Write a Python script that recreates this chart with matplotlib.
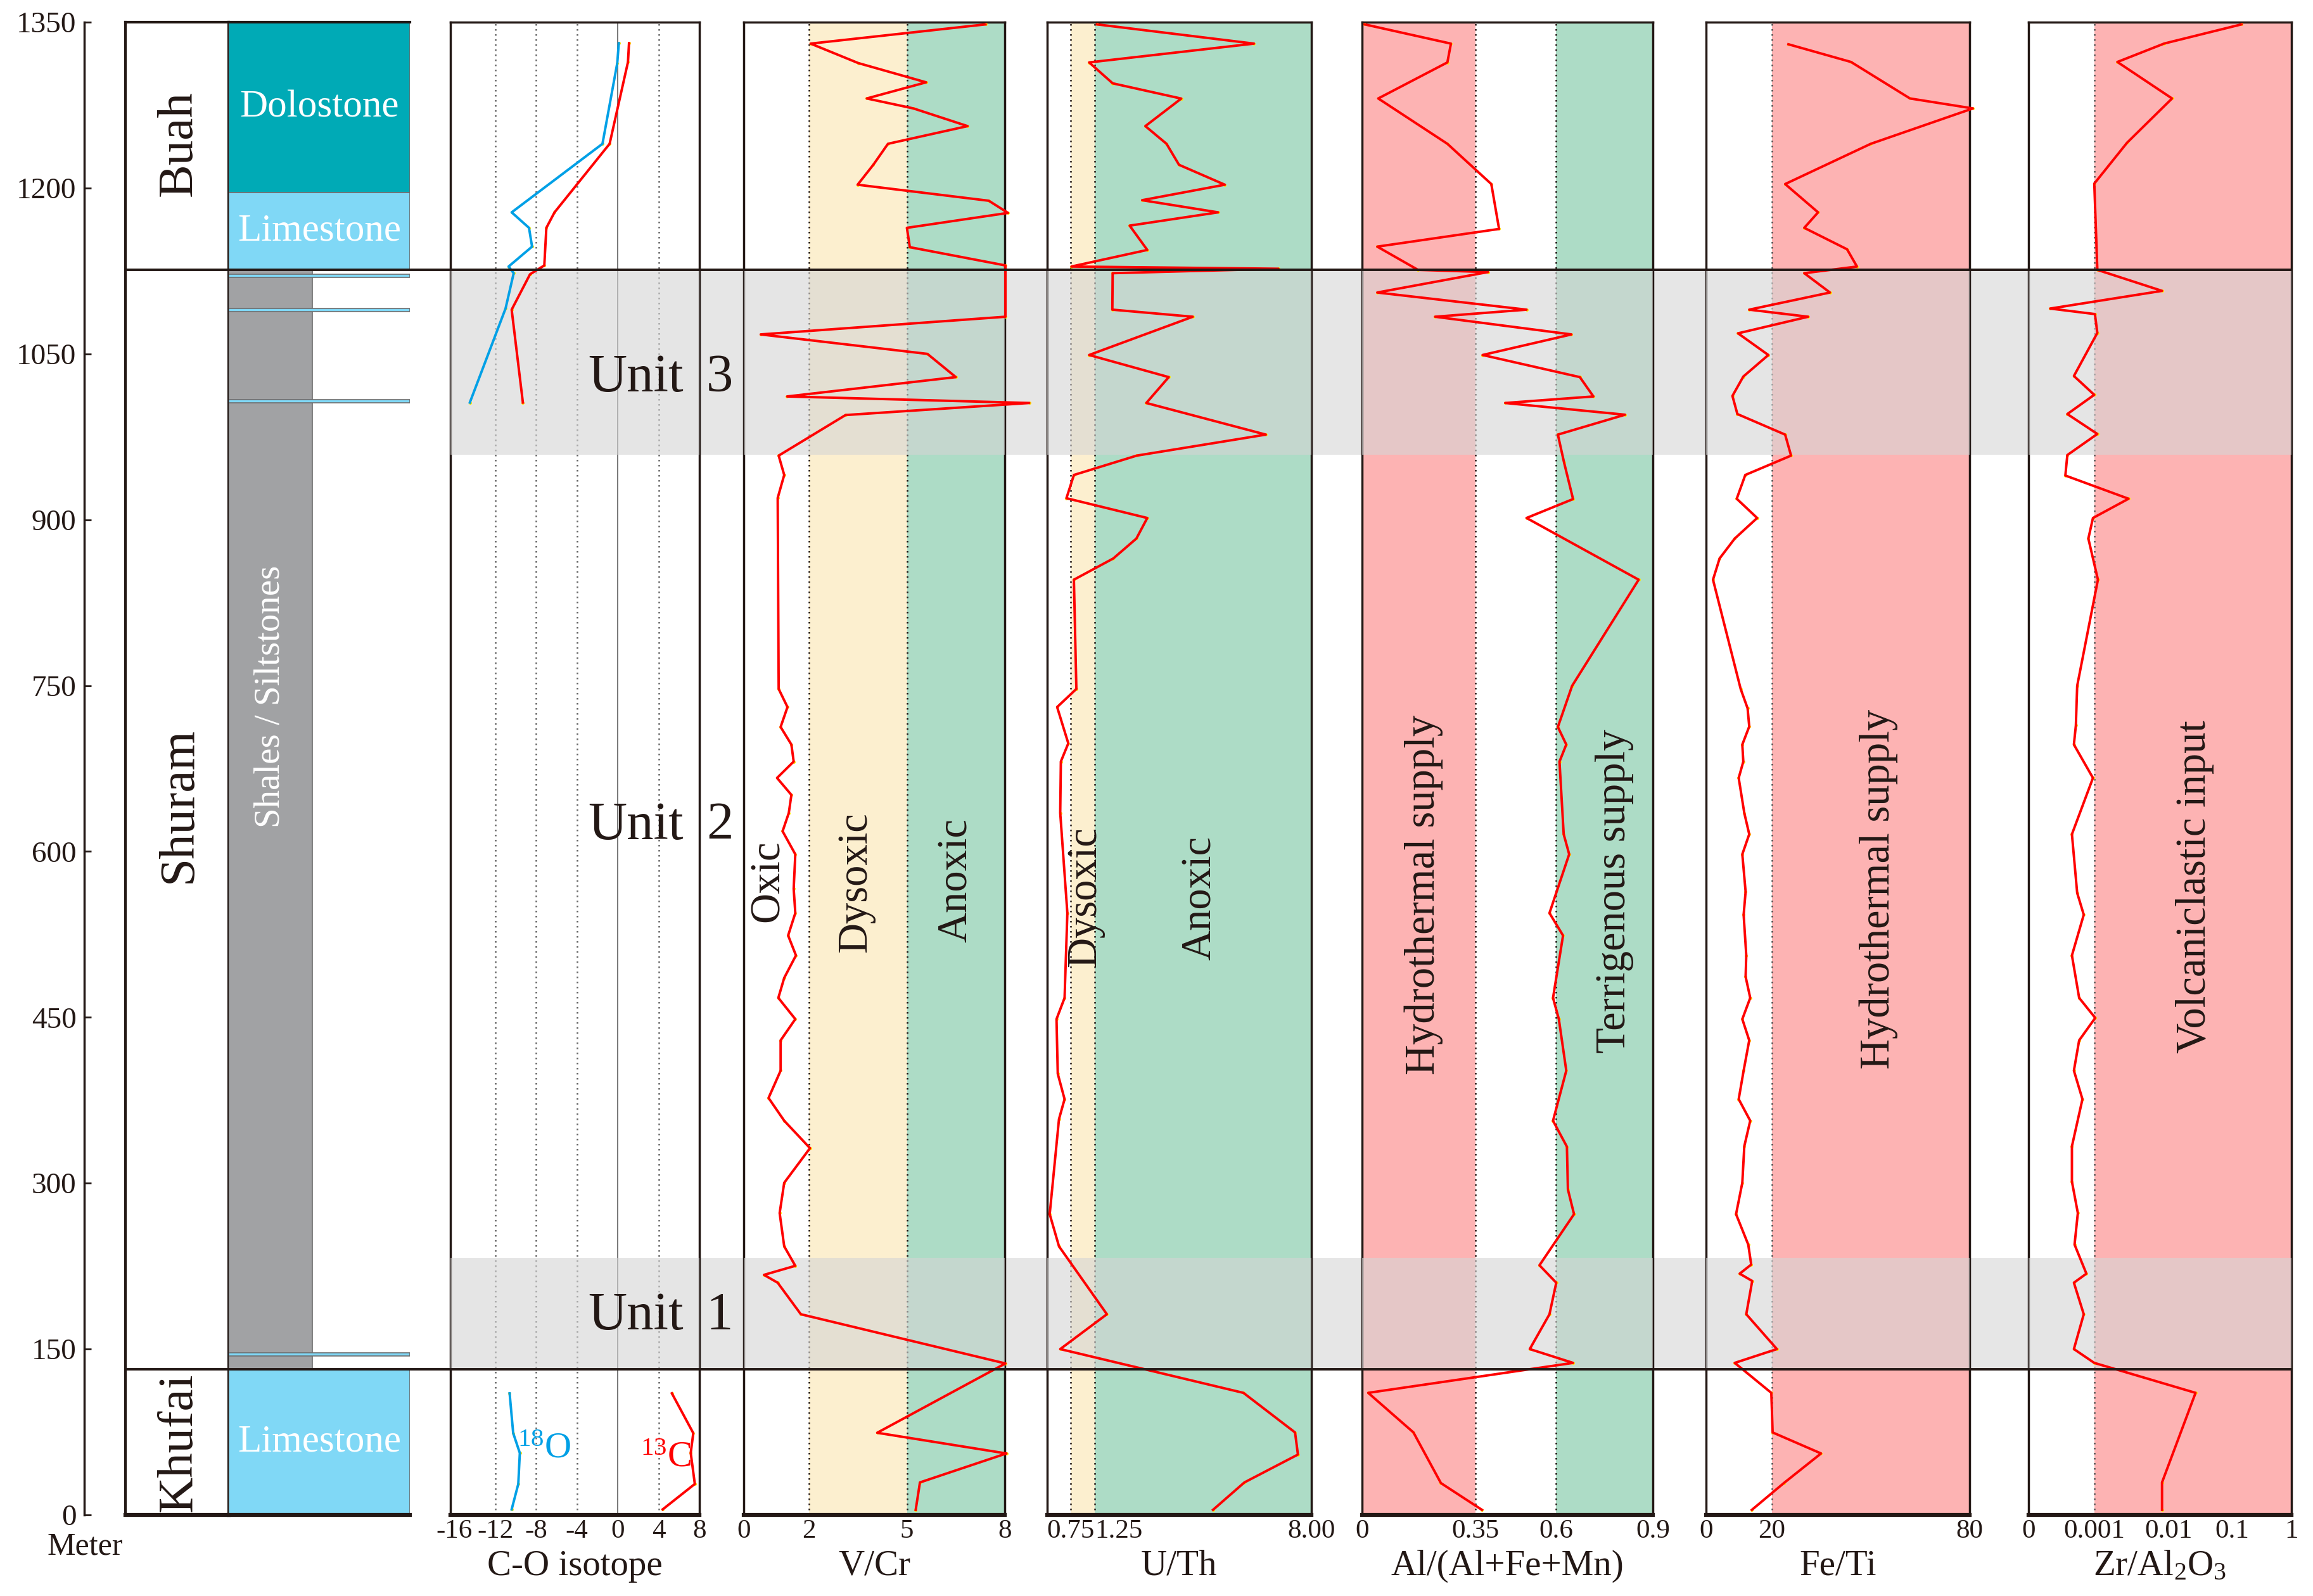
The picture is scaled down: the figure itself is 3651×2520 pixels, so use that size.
import numpy as np
import matplotlib
matplotlib.use("Agg")
import matplotlib.pyplot as plt
from matplotlib.transforms import blended_transform_factory as blend

# ------------------------------------------------------------------ data
depth_ticks = [0, 150, 300, 450, 600, 750, 900, 1050, 1200, 1350]

formations = ["Buah", "Shuram", "Khufai"]
formation_top = [1350, 1126, 132]
formation_base = [1126, 132, 0]
formation_label_depth = [1240, 642, 66]

litho_names = ["Dolostone", "Limestone", "Shales / Siltstones", "Limestone"]
litho_kind = ["dolostone", "limestone", "shale", "limestone"]
litho_top = [1350, 1196, 1126, 132]
litho_base = [1196, 1126, 132, 0]
litho_label_depth = [1273, 1161, 740, 66]

bed_depth = [1120.5, 1089.5, 1007, 145]      # thin limestone beds inside the Shuram shales
bed_thickness = [3, 3, 3, 3]

unit_names = ["Unit 3", "Unit 2", "Unit 1"]
unit_label_depth = [1016, 611, 168]
band_top = [1126, 232.5]
band_base = [959, 132]

# C-O isotopes
d18O_up_depth = [1331, 1313, 1240, 1178, 1164, 1147, 1129, 1123, 1091, 1006]
d18O_up = [0.1, -0.05, -1.5, -10.4, -8.7, -8.4, -10.7, -10.2, -11.0, -14.5]
d13C_up_depth = [1331, 1314, 1240, 1178, 1164, 1130, 1122, 1090, 1006]
d13C_up = [1.1, 1.0, -0.8, -6.2, -7.0, -7.2, -8.6, -10.4, -9.3]
co_low_depth = [110, 74, 56, 28, 5]
d18O_low = [-10.6, -10.25, -9.6, -9.75, -10.4]
d13C_low = [5.3, 7.4, 7.15, 7.55, 4.4]

# V/Cr
vcr_depth = [1348, 1330.6, 1313, 1295.6, 1281, 1272, 1256, 1240, 1221, 1203,
             1188.5, 1177.5, 1164, 1146.5, 1130, 1083.6, 1067.6, 1050, 1029, 1011.5,
             1005.6, 994.7, 958, 940.5, 919.7, 747, 730.6, 712.6, 696.7, 681.3,
             666.5, 651.2, 634.8, 618.3, 597.5, 566.3, 544.3, 524, 506, 485.7,
             467.6, 448.4, 429.2, 401.8, 377.1, 356.5, 331.7, 300.4, 273, 242.9,
             225.3, 217.1, 210, 181.5, 137, 74.3, 55.6, 29.4, 4.6]
vcr = [7.41, 2.05, 3.51, 5.59, 3.77, 5.20, 6.86, 4.42, 3.97, 3.49,
       7.51, 8.10, 5.00, 5.09, 8.02, 8.02, 0.52, 5.63, 6.50, 1.33,
       8.75, 3.12, 1.07, 1.24, 1.04, 1.07, 1.34, 1.13, 1.46, 1.53,
       1.02, 1.46, 1.38, 1.19, 1.58, 1.53, 1.58, 1.36, 1.60, 1.24,
       1.06, 1.58, 1.13, 1.13, 0.76, 1.24, 2.03, 1.24, 1.10, 1.24,
       1.58, 0.62, 1.04, 1.75, 8.02, 4.09, 8.05, 5.40, 5.27]

# U/Th
uth_depth = [1348, 1330.6, 1313.6, 1294.7, 1280.9, 1256, 1240, 1221, 1203, 1189,
             1178, 1166, 1144, 1129, 1127, 1123, 1090, 1083.6, 1049, 1029,
             1005.6, 977, 958, 940.5, 919.5, 901.6, 883, 865, 845.8, 747,
             730.6, 697.8, 681.3, 634.8, 544.3, 467.6, 448.4, 399, 376, 358,
             272, 242.9, 181.5, 150, 110.4, 74.6, 54.6, 29.4, 4.6]
uth = [1.31, 6.21, 1.13, 1.80, 3.94, 2.82, 3.48, 3.87, 5.30, 2.72,
       5.09, 2.33, 2.88, 0.77, 6.97, 1.80, 1.79, 4.30, 1.13, 3.55,
       2.85, 6.58, 2.55, 0.82, 0.62, 2.88, 2.54, 1.82, 0.82, 0.87,
       0.32, 0.68, 0.44, 0.42, 0.65, 0.56, 0.30, 0.34, 0.56, 0.38,
       0.08, 0.38, 1.62, 0.42, 5.88, 7.49, 7.58, 5.91, 4.93]

# Al/(Al+Fe+Mn)
al_depth = [1348, 1330.6, 1313.6, 1281, 1240, 1203.6, 1163, 1147, 1126, 1124,
            1105.5, 1090, 1083.6, 1067.6, 1049, 1029, 1011.5, 1005.6, 995, 977,
            952, 918.7, 901.6, 845.8, 749.8, 712.6, 696.7, 681.3, 615.6, 597.5,
            544.3, 524, 467.6, 448.4, 401.8, 356.5, 333, 294.4, 272, 225.8,
            210, 181.5, 150, 137.5, 110.4, 74.6, 28.8, 4.6]
al = [0.008, 0.275, 0.264, 0.050, 0.264, 0.400, 0.424, 0.047, 0.173, 0.390,
      0.047, 0.509, 0.226, 0.648, 0.373, 0.674, 0.716, 0.443, 0.814, 0.606,
      0.625, 0.653, 0.509, 0.856, 0.650, 0.606, 0.632, 0.611, 0.624, 0.641,
      0.580, 0.622, 0.591, 0.609, 0.632, 0.591, 0.634, 0.637, 0.656, 0.549,
      0.601, 0.580, 0.519, 0.653, 0.019, 0.159, 0.244, 0.371]

# Fe/Ti
feti_depth = [1330, 1314, 1281, 1272, 1240, 1203.6, 1178, 1164, 1144.6, 1129,
              1123, 1105.5, 1090, 1083.6, 1068.6, 1049, 1029.5, 1012, 995.6, 977,
              958, 940.5, 919, 901.6, 883, 865, 845.8, 747, 729.5, 713,
              696.7, 681.3, 666.5, 634.8, 615.6, 597.5, 563.6, 542.8, 506, 486.8,
              467.6, 448.4, 429.2, 401.8, 376, 356.5, 333.4, 300.4, 272, 244.5,
              226.4, 218.2, 211.6, 181.5, 150, 137.5, 110.4, 74.6, 55.6, 28.8, 4.6]
feti = [25.0, 44.0, 61.9, 81.0, 50.0, 24.0, 34.0, 29.8, 42.8, 45.8,
        29.8, 37.6, 13.1, 31.0, 9.7, 18.9, 11.3, 8.0, 9.5, 24.0,
        25.8, 11.9, 9.3, 15.5, 8.7, 4.1, 2.1, 10.5, 12.6, 13.1,
        11.0, 11.3, 9.9, 11.6, 13.1, 11.0, 12.0, 11.4, 12.2, 12.0,
        13.4, 11.0, 13.1, 11.4, 9.9, 13.4, 11.6, 11.0, 9.1, 12.8,
        13.7, 10.2, 14.0, 12.2, 21.5, 8.7, 19.8, 20.2, 34.9, 23.6, 13.9]

# Zr/Al2O3
zr_depth = [1348, 1330.7, 1314, 1281, 1241, 1204, 1126, 1107, 1091, 1086,
            1069, 1030, 1013, 995.6, 977.6, 958.5, 940, 919, 901.6, 883,
            845.8, 749.8, 714, 696.7, 666.5, 615.6, 562.5, 542.8, 506, 467.6,
            449.5, 429.2, 401.8, 376, 333.4, 301.5, 273, 244.5, 218.2, 210,
            181.5, 150, 137.5, 110.4, 29.4, 4.6]
zr = [0.143, 0.0088, 0.00205, 0.0114, 0.00277, 0.0010, 0.0011, 0.0082, 0.00033, 0.00102,
      0.0011, 0.00069, 0.0010, 0.00059, 0.0011, 0.00059, 0.00056, 0.0029, 0.00098, 0.00091,
      0.00112, 0.00074, 0.00072, 0.00069, 0.00098, 0.00066, 0.00074, 0.00084, 0.00066, 0.00077,
      0.00103, 0.00077, 0.00069, 0.00082, 0.00066, 0.00066, 0.00075, 0.00070, 0.00088, 0.00069,
      0.00084, 0.00069, 0.0010, 0.0266, 0.0082, 0.0082]

# ------------------------------------------------------------------ style
plt.rcParams['font.family'] = ['Liberation Serif', 'DejaVu Serif']
plt.rcParams['mathtext.fontset'] = 'custom'
plt.rcParams['mathtext.rm'] = 'Liberation Serif'
plt.rcParams['mathtext.it'] = 'Liberation Serif:italic'
plt.rcParams['mathtext.bf'] = 'Liberation Serif:bold'

INK = '#231815'
YELLOW = '#FCEFCF'
GREEN = '#ADDCC6'
PINK = '#FDB3B3'
DOLO = '#00AAB6'
LIME = '#80D8F6'
SHALE = '#A1A2A4'
BAND = '#E6E6E6'
RED = '#FF0000'
BLUE = '#00A0E6'
litho_color = {'dolostone': DOLO, 'limestone': LIME, 'shale': SHALE}
litho_width = {'dolostone': 1.0, 'limestone': 1.0, 'shale': 0.46}

W, H = 3651, 2520
TOP_PX, BOT_PX = 35, 2392
fig = plt.figure(figsize=(W / 100, H / 100), dpi=100)


def add_ax(x0, x1, z=1):
    ax = fig.add_axes([x0 / W, (H - BOT_PX) / H, (x1 - x0) / W, (BOT_PX - TOP_PX) / H])
    ax.set_zorder(z)
    ax.set_ylim(0, 1350)
    ax.set_facecolor('none')
    return ax


# ---------------- custom axis scales (non-linear hand-drawn axes)
UTH_V = [0, 0.75, 1.25, 8.0]
UTH_P = [0, 0.088, 0.181, 1.0]


def uth_fwd(x):
    x = np.asarray(x, float)
    y = np.interp(x, UTH_V, UTH_P)
    y = np.where(x > 8, 1 + (x - 8) * (0.819 / 6.75), y)
    y = np.where(x < 0, x * 0.088 / 0.75, y)
    return y


def uth_inv(y):
    y = np.asarray(y, float)
    x = np.interp(y, UTH_P, UTH_V)
    x = np.where(y > 1, 8 + (y - 1) * (6.75 / 0.819), x)
    x = np.where(y < 0, y * 0.75 / 0.088, x)
    return x


ZR_L = [-3, -2, -1, 0]
ZR_P = [0.25, 0.532, 0.775, 1.0]


def zr_fwd(x):
    x = np.asarray(x, float)
    lg = np.log10(np.clip(x, 1e-9, None))
    ylog = np.interp(lg, ZR_L, ZR_P)
    ylog = np.where(lg > 0, 1 + lg * 0.225, ylog)
    ylin = 0.25 * x / 0.001
    return np.where(x <= 0.001, ylin, ylog)


def zr_inv(y):
    y = np.asarray(y, float)
    lg = np.interp(y, ZR_P, ZR_L)
    lg = np.where(y > 1, (y - 1) / 0.225, lg)
    return np.where(y <= 0.25, y / 0.25 * 0.001, 10 ** lg)


# ---------------- background gray unit bands (visible in the gaps)
ax_bg = add_ax(711, 3617, z=0)
ax_bg.axis('off')
for t, b in zip(band_top, band_base):
    ax_bg.axhspan(b, t, color=BAND, lw=0)

# ---------------- depth axis
ax_d = add_ax(133, 198)
for s in ['top', 'right', 'bottom']:
    ax_d.spines[s].set_visible(False)
ax_d.spines['left'].set_linewidth(2.5)
ax_d.spines['left'].set_color(INK)
ax_d.set_xticks([])
ax_d.set_yticks(depth_ticks)
ax_d.tick_params(axis='y', direction='in', length=8, width=2, pad=9,
                 labelsize=34, colors=INK)
fig.text(134 / W, 1 - 2442 / H, 'Meter', ha='center', va='center', fontsize=36, color=INK)

# ---------------- formation column
ax_f = add_ax(198, 361)
ax_f.set_xlim(0, 1)
ax_f.set_xticks([]); ax_f.set_yticks([])
for s in ax_f.spines.values():
    s.set_linewidth(3); s.set_color(INK)
ax_f.spines['bottom'].set_linewidth(4.5)
for name, d in zip(formations, formation_label_depth):
    ax_f.text(0.52, d, name, rotation=90, ha='center', va='center', fontsize=57, color=INK)

# ---------------- lithology column
ax_l = add_ax(361, 647)
ax_l.set_xlim(0, 1)
ax_l.set_xticks([]); ax_l.set_yticks([])
for s in ['left', 'right']:
    ax_l.spines[s].set_visible(False)
for s in ['top', 'bottom']:
    ax_l.spines[s].set_color(INK)
ax_l.spines['top'].set_linewidth(3)
ax_l.spines['bottom'].set_linewidth(4.5)
for kind, t, b in zip(litho_kind, litho_top, litho_base):
    ax_l.barh((t + b) / 2, litho_width[kind], height=t - b, left=0, align='center',
              color=litho_color[kind], edgecolor='#6E6E6E', lw=1.2, zorder=1)
for d, th in zip(bed_depth, bed_thickness):
    ax_l.barh(d, 1.0, height=th, left=0, align='center', color=LIME,
              edgecolor='#6E6E6E', lw=1.2, zorder=2)
for name, kind, d in zip(litho_names, litho_kind, litho_label_depth):
    if kind == 'shale':
        ax_l.text(litho_width[kind] / 2, d, name, rotation=90, ha='center', va='center',
                  fontsize=41, color='white', zorder=3)
    else:
        ax_l.text(0.5, d, name, ha='center', va='center', fontsize=44,
                  color='white', zorder=3)


# ---------------- data panels
def panel(x0, x1, xlim, zones, guides, ticks, ticklabels, xlabel, scale=None,
          guide_color=INK):
    ax = add_ax(x0, x1)
    if scale is not None:
        ax.set_xscale('function', functions=scale)
    ax.set_xlim(*xlim)
    for a, b, c in zones:
        ax.axvspan(a, b, color=c, lw=0, zorder=0.5)
    for g in guides:
        ax.axvline(g, color=guide_color, lw=1.8, ls=(0, (1, 2.2)), zorder=1)
    for t, b in zip(band_top, band_base):
        ax.axhspan(b, t, color='#D5D5D5', alpha=0.6, lw=0, zorder=3)
    ax.set_yticks([])
    ax.set_xticks(ticks, ticklabels)
    ax.tick_params(axis='x', length=0, pad=5, labelsize=31, colors=INK)
    for s in ax.spines.values():
        s.set_linewidth(2.5); s.set_color(INK)
    ax.spines['bottom'].set_linewidth(4.5)
    ax.text(0.5, -0.0403, xlabel, transform=ax.transAxes, ha='center',
            va='baseline', fontsize=41, color=INK)
    return ax


def curve(ax, x, y, color=RED):
    ax.plot(x, y, ls='none', marker='o', ms=3.6, mfc='#FFE600', mec='none',
            zorder=3.9, clip_on=False)
    ax.plot(x, y, color=color, lw=2.8, zorder=4, clip_on=False)


def vlabel(ax, items):
    tr = blend(ax.transAxes, ax.transData)
    for txt, fx, d in items:
        ax.text(fx, d, txt, transform=tr, rotation=90, ha='center', va='center',
                fontsize=48, color=INK, zorder=5)


# C-O isotope
ax_co = panel(711, 1104, (-16.4, 8), [(-16.4, 8, 'white')], [-12, -8, -4, 4],
              [-16, -12, -8, -4, 0, 4, 8], ['-16', '-12', '-8', '-4', '0', '4', '8'],
              'C-O isotope', guide_color='#666666')
ax_co.axvline(0, color='#777777', lw=1.4, zorder=1)
curve(ax_co, d18O_up, d18O_up_depth, BLUE)
curve(ax_co, d13C_up, d13C_up_depth, RED)
curve(ax_co, d18O_low, co_low_depth, BLUE)
curve(ax_co, d13C_low, co_low_depth, RED)
ax_co.text(-7.2, 60, r'$^{18}$O', ha='center', va='center', fontsize=42, color=BLUE, zorder=5)
ax_co.text(4.7, 52, r'$^{13}$C', ha='center', va='center', fontsize=42, color=RED, zorder=5)

# V/Cr
ax_v = panel(1174, 1586, (0, 8), [(0, 2, 'white'), (2, 5, YELLOW), (5, 8, GREEN)],
             [2, 5], [0, 2, 5, 8], ['0', '2', '5', '8'], 'V/Cr')
curve(ax_v, vcr, vcr_depth)
vlabel(ax_v, [('Oxic', 0.092, 573), ('Dysoxic', 0.428, 572), ('Anoxic', 0.815, 574)])

# U/Th
ax_u = panel(1653, 2070, (0, 8), [(0, 0.75, 'white'), (0.75, 1.25, YELLOW), (1.25, 8, GREEN)],
             [0.75, 1.25], [0.75, 1.25, 8], ['0.75', '1.25', '8.00'], 'U/Th',
             scale=(uth_fwd, uth_inv))
ax_u.xaxis.get_major_ticks()[1].label1.set_horizontalalignment('left')
curve(ax_u, uth, uth_depth)
vlabel(ax_u, [('Dysoxic', 0.143, 559), ('Anoxic', 0.58, 558)])

# Al/(Al+Fe+Mn)
ax_a = panel(2150, 2609, (0, 0.9), [(0, 0.35, PINK), (0.35, 0.6, 'white'), (0.6, 0.9, GREEN)],
             [0.35, 0.6], [0, 0.35, 0.6, 0.9], ['0', '0.35', '0.6', '0.9'], 'Al/(Al+Fe+Mn)')
curve(ax_a, al, al_depth)
vlabel(ax_a, [('Hydrothermal supply', 0.212, 561), ('Terrigenous supply', 0.869, 564)])

# Fe/Ti
ax_fe = panel(2693, 3109, (0, 80), [(0, 20, 'white'), (20, 80, PINK)],
              [20], [0, 20, 80], ['0', '20', '80'], 'Fe/Ti', guide_color='#555555')
curve(ax_fe, feti, feti_depth)
vlabel(ax_fe, [('Hydrothermal supply', 0.655, 566)])

# Zr/Al2O3
ax_z = panel(3202, 3617, (0, 1), [(0, 0.001, 'white'), (0.001, 1, PINK)],
             [0.001], [0, 0.001, 0.01, 0.1, 1], ['0', '0.001', '0.01', '0.1', '1'],
             r'Zr/Al$_2$O$_3$', scale=(zr_fwd, zr_inv), guide_color='#555555')
curve(ax_z, zr, zr_depth)
vlabel(ax_z, [('Volcaniclastic input', 0.633, 568)])

# ---------------- overlay: formation boundaries + unit labels
ax_o = add_ax(0, W, z=5)
ax_o.set_xlim(0, W)
ax_o.axis('off')
ax_o.hlines(formation_base[:-1], 198, 3617, color=INK, lw=2.8)
for name, d in zip(unit_names, unit_label_depth):
    word, num = name.split()
    ax_o.text(1004, d, word, ha='center', va='baseline', fontsize=61, color=INK)
    ax_o.text(1136, d, num, ha='center', va='baseline', fontsize=61, color=INK)

fig.savefig('out.png', dpi=100)
